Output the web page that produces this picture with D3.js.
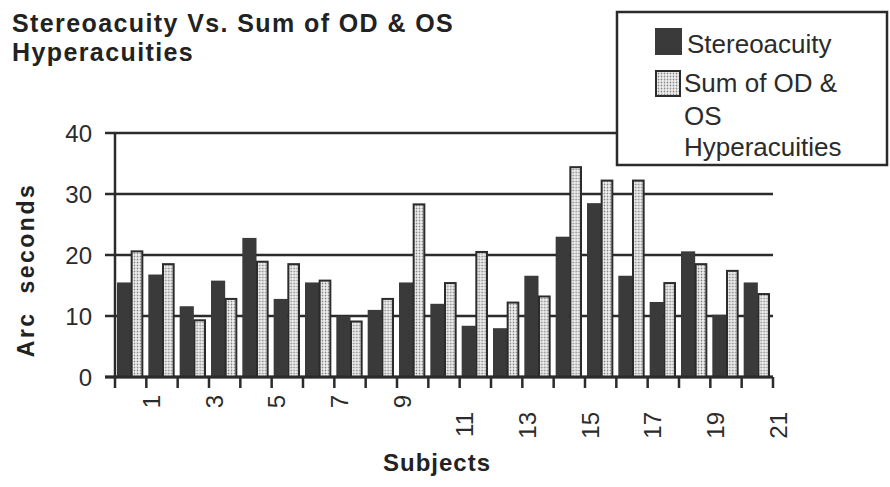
<!DOCTYPE html>
<html>
<head>
<meta charset="utf-8">
<script src="https://cdn.jsdelivr.net/npm/d3@7"></script>
<style>
    body { margin: 0; background: #fff; }
    svg text { font-family: "Liberation Sans", Arial, sans-serif; fill: #2b2b2b; }
</style>
</head>
<body>
<svg id="chart"></svg>
<script>
var subjects = [1, 2, 3, 4, 5, 6, 7, 8, 9, 10, 11, 12, 13, 14, 15, 16, 17, 18, 19, 20, 21];
var stereoacuity = [15.5, 16.8, 11.6, 15.8, 22.8, 12.8, 15.5, 10.0, 11.0, 15.5, 12.0, 8.4, 8.0, 16.6, 23.0, 28.5, 16.6, 12.3, 20.6, 10.2, 15.5];
var hyperacuities = [20.6, 18.5, 9.3, 12.8, 18.9, 18.5, 15.8, 9.1, 12.8, 28.3, 15.4, 20.5, 12.2, 13.2, 34.4, 32.2, 32.2, 15.4, 18.5, 17.4, 13.6];
var xTickLabels = [1, 3, 5, 7, 9, 11, 13, 15, 17, 19, 21];
var yTicks = [0, 10, 20, 30, 40];
var seriesNames = ['Stereoacuity', 'Sum of OD & OS Hyperacuities'];

(function () {

    var config = {
        width: 890,
        height: 487,
        left: 115,
        right: 773,
        top: 133,
        bottom: 377,
        ink: '#2b2b2b',
        dark: '#3a3a3a'
    };

    var svg = d3.select('#chart')
        .attr('width', config.width)
        .attr('height', config.height);

    var defs = svg.append('defs');
    var dots = defs.append('pattern')
        .attr('id', 'dots')
        .attr('width', 3)
        .attr('height', 3)
        .attr('patternUnits', 'userSpaceOnUse');
    dots.append('rect').attr('width', 3).attr('height', 3).attr('fill', '#f2f2f2');
    dots.append('circle').attr('cx', 1.5).attr('cy', 1.5).attr('r', 0.9).attr('fill', '#8a8a8a');

    var x = d3.scaleBand()
        .domain(subjects)
        .range([config.left, config.right]);

    var xSeries = d3.scaleBand()
        .domain([0, 1])
        .range([3, x.bandwidth() - 3]);

    // category boundaries, the old way Excel put its ticks and labels
    var xTick = d3.scaleLinear()
        .domain([0, subjects.length])
        .range([config.left, config.right]);

    var y = d3.scaleLinear()
        .domain([0, 40])
        .range([config.bottom, config.top]);

    var chart = svg.append('g').attr('class', 'chart');

    // grid lines with their ticks
    chart.append('g')
        .attr('class', 'grid')
        .selectAll('line')
        .data(yTicks)
        .enter()
        .append('line')
        .attr('x1', config.left - 10)
        .attr('x2', config.right)
        .attr('y1', function (d) { return y(d); })
        .attr('y2', function (d) { return y(d); })
        .style('stroke', config.ink)
        .style('stroke-width', 2.5);

    chart.append('g')
        .attr('class', 'y-labels')
        .selectAll('text')
        .data(yTicks)
        .enter()
        .append('text')
        .attr('x', 92)
        .attr('y', function (d) { return y(d); })
        .attr('dy', '0.36em')
        .attr('text-anchor', 'end')
        .style('font-size', '24px')
        .text(function (d) { return d; });

    var groups = chart.append('g')
        .attr('class', 'bars')
        .selectAll('g')
        .data(subjects)
        .enter()
        .append('g')
        .attr('transform', function (d) { return 'translate(' + x(d) + ',0)'; });

    groups.append('rect')
        .attr('x', xSeries(0) - 1)
        .attr('y', function (d, i) { return y(stereoacuity[i]); })
        .attr('width', xSeries.bandwidth() + 1.5)
        .attr('height', function (d, i) { return y(0) - y(stereoacuity[i]); })
        .attr('fill', config.dark);

    groups.append('rect')
        .attr('x', xSeries(1) + 1)
        .attr('y', function (d, i) { return y(hyperacuities[i]); })
        .attr('width', xSeries.bandwidth() - 2)
        .attr('height', function (d, i) { return y(0) - y(hyperacuities[i]); })
        .attr('fill', 'url(#dots)')
        .style('stroke', config.ink)
        .style('stroke-width', 2);

    // axes
    chart.append('line')
        .attr('x1', config.left)
        .attr('x2', config.left)
        .attr('y1', config.top)
        .attr('y2', config.bottom)
        .style('stroke', config.ink)
        .style('stroke-width', 2.5);

    chart.append('line')
        .attr('x1', config.left - 10)
        .attr('x2', config.right)
        .attr('y1', config.bottom)
        .attr('y2', config.bottom)
        .style('stroke', config.ink)
        .style('stroke-width', 3);

    chart.append('g')
        .attr('class', 'x-ticks')
        .selectAll('line')
        .data(d3.range(subjects.length + 1))
        .enter()
        .append('line')
        .attr('x1', function (d) { return xTick(d); })
        .attr('x2', function (d) { return xTick(d); })
        .attr('y1', config.bottom)
        .attr('y2', config.bottom + 11)
        .style('stroke', config.ink)
        .style('stroke-width', 2.5);

    chart.append('g')
        .attr('class', 'x-labels')
        .selectAll('text')
        .data(xTickLabels)
        .enter()
        .append('text')
        .attr('transform', function (d) {
            var top = String(d).length > 1 ? 412 : 395;
            return 'translate(' + (xTick(d) + 5) + ',' + top + ') rotate(-90)';
        })
        .attr('dy', '0.36em')
        .attr('text-anchor', 'end')
        .style('font-size', '24px')
        .text(function (d) { return d; });

    // titles
    var title = svg.append('text')
        .attr('x', 12)
        .style('font-size', '25px')
        .style('font-weight', 'bold')
        .style('letter-spacing', '1.4px')
        .style('fill', '#222');
    title.append('tspan').attr('x', 12).attr('y', 32).text('Stereoacuity Vs. Sum of OD & OS');
    title.append('tspan').attr('x', 12).attr('y', 61).text('Hyperacuities');

    svg.append('text')
        .attr('x', 437)
        .attr('y', 471)
        .attr('text-anchor', 'middle')
        .style('font-size', '24px')
        .style('font-weight', 'bold')
        .style('letter-spacing', '1px')
        .style('fill', '#222')
        .text('Subjects');

    svg.append('text')
        .attr('transform', 'translate(34,270) rotate(-90)')
        .attr('text-anchor', 'middle')
        .style('font-size', '23px')
        .style('font-weight', 'bold')
        .style('letter-spacing', '2.5px')
        .style('white-space', 'pre')
        .style('fill', '#222')
        .text('Arc  seconds');

    // legend
    var legend = svg.append('g').attr('class', 'legend');
    legend.append('rect')
        .attr('x', 617)
        .attr('y', 12)
        .attr('width', 270)
        .attr('height', 153)
        .attr('fill', '#fff')
        .style('stroke', config.ink)
        .style('stroke-width', 2.5);

    legend.append('rect')
        .attr('x', 655).attr('y', 28).attr('width', 27).attr('height', 27)
        .attr('fill', config.dark);
    legend.append('rect')
        .attr('x', 656).attr('y', 71).attr('width', 24).attr('height', 25)
        .attr('fill', 'url(#dots)')
        .style('stroke', config.ink)
        .style('stroke-width', 2);

    var legendText = legend.append('text')
        .style('font-size', '26px');
    legendText.append('tspan').attr('x', 687).attr('y', 53).text(seriesNames[0]);
    legendText.append('tspan').attr('x', 684).attr('y', 92).text('Sum of OD &');
    legendText.append('tspan').attr('x', 684).attr('y', 125).text('OS');
    legendText.append('tspan').attr('x', 684).attr('y', 156).text('Hyperacuities');

})();
</script>
</body>
</html>
